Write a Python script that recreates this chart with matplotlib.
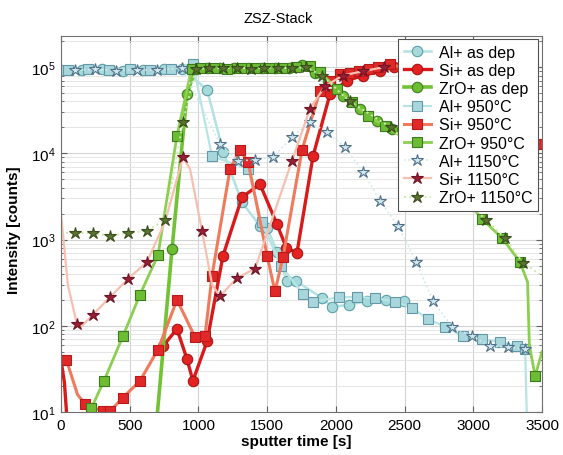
import numpy as np
import matplotlib
matplotlib.use('Agg')
import matplotlib.pyplot as plt
from matplotlib.ticker import LogLocator, FixedLocator, NullFormatter

plt.rcParams['font.family'] = ['Liberation Sans', 'DejaVu Sans']
plt.rcParams['mathtext.fontset'] = 'custom'
plt.rcParams['mathtext.rm'] = 'Liberation Sans'
plt.rcParams['mathtext.it'] = 'Liberation Sans:italic'
plt.rcParams['mathtext.bf'] = 'Liberation Sans:bold'

title = 'ZSZ-Stack'
xlabel = 'sputter time [s]'
ylabel = 'Intensity [counts]'
xticks = [0, 500, 1000, 1500, 2000, 2500, 3000, 3500]
yticks = [1e1, 1e2, 1e3, 1e4, 1e5]

# ---- Al+ as dep (circles)
al_dep_x = [0, 150, 300, 450, 600, 750, 880, 1063, 1180, 1317, 1448, 1500, 1572, 1645, 1710,
            1900, 1972, 2096, 2227, 2365, 2496]
al_dep_y = [9.3e4, 9.2e4, 9.4e4, 9.1e4, 9.3e4, 9.4e4, 9.6e4, 5.5e4, 1.05e4, 2.7e3, 1.44e3, 1.37e3,
            720, 330, 330, 210, 166, 175, 195, 200, 194]
# ---- Si+ as dep (circles)
si_dep_x = [0, 25, 50, np.nan, 690, 742, 844, 917, 960, 1063, 1179, 1317, 1448, 1572, 1640, 1717,
            1834, 1958, 2080, 2200, 2320, 2420, 2700]
si_dep_y = [40, 22, 6, np.nan, 50, 58, 92, 41, 23, 66, 650, 3.1e3, 4.4e3, 1.5e3, 800, 700,
            9.3e3, 4.9e4, 7e4, 8e4, 9e4, 1.0e5, 8e4]
# ---- ZrO+ as dep (circles)
zr_dep_x = [690, 808, 917, 980, 1060, 1160, 1260, 1360, 1460, 1560, 1660, 1754, 1850, 1943,
            2052, 2176, 2300, 2409, 2600, 2850]
zr_dep_y = [6, 780, 4.9e4, 9.6e4, 9.8e4, 9.7e4, 9.9e4, 9.7e4, 9.8e4, 9.9e4, 9.7e4, 1.05e5,
            8.5e4, 6.9e4, 4.6e4, 3.3e4, 2.37e4, 1.9e4, 1.2e4, 5e3]
# ---- Al+ 950 C (squares)
al_950_x = [50, 200, 350, 500, 650, 800, 960, 1099, 1361, 1460, 1600, 1761, 1834, 2023, 2154,
            2285, 2431, 2555, 2671, 2795, 2926, 3064, 3195, 3319, 3377, 3405]
al_950_y = [9.2e4, 9.4e4, 9.3e4, 9.5e4, 9.2e4, 9.6e4, 1.1e5, 9.3e3, 6.6e3, 1.6e3, 500, 233, 190,
            215, 215, 210, 190, 161, 120, 97, 76, 70, 65, 58, 54, 1]
# ---- Si+ 950 C (squares)
si_950_x = [0, 40, 120, 175, 306, 357, 451, 575, 706, 844, 975, 1048, 1099, 1230, 1303, 1361,
            1500, 1557, 1616, 1754, 1885, 1960, 2030, 2100, 2170, 2240, 2310, 2394, 2700, 3000,
            3300, 3480]
si_950_y = [40, 40, 16, 12.3, 10.2, 10.2, 14.7, 23, 53, 200, 74, 76, 380, 6.6e3, 1.1e4, 8e3,
            650, 250, 630, 1.1e4, 5.3e4, 7e4, 8.3e4, 8.5e4, 9e4, 9.5e4, 1.0e5, 1.08e5, 8e4, 5e4,
            2.5e4, 1.3e4]
# ---- ZrO+ 950 C (squares)
zr_950_x = [220, 313, 451, 575, 706, 844, 950, 1010, 1110, 1210, 1310, 1410, 1510, 1610, 1710,
            1812, 1885, 2009, 2118, 2234, 2358, 2600, 2850, 3064, 3210, 3340, 3395, 3408, 3450,
            3500]
zr_950_y = [11, 23, 76, 230, 660, 1.6e4, 9.5e4, 9.7e4, 9.9e4, 9.6e4, 9.8e4, 9.9e4, 9.7e4,
            9.8e4, 1.0e5, 1.03e5, 8.75e4, 5.6e4, 3.9e4, 2.7e4, 2.07e4, 1.2e4, 4.5e3, 1.73e3,
            1.04e3, 550, 320, 60, 26, 50]
# ---- Al+ 1150 C (stars)
al_1150_x = [100, 250, 400, 550, 700, 880, 1157, 1288, 1412, 1543, 1681, 1812, 1936, 2067,
             2198, 2322, 2453, 2584, 2707, 2846, 2991, 3122, 3253, 3377]
al_1150_y = [9.2e4, 9.4e4, 9.1e4, 9.3e4, 9.2e4, 9.8e4, 1.28e4, 8.2e3, 8.4e3, 9.0e3, 1.55e4,
             2.3e4, 1.76e4, 1.18e4, 6.1e3, 2.8e3, 1.44e3, 550, 194, 97, 76, 58, 57, 54]
# ---- Si+ 1150 C (stars)
si_1150_x = [0, 50, 116, 140, 233, 357, 488, 626, 757, 888, 939, 1026, 1100, 1157, 1281, 1412,
             1540, 1681, 1812, 1920, 2050, 2200, 2350]
si_1150_y = [2e3, 300, 105, 95, 135, 215, 350, 550, 1.6e3, 9e3, 6.6e3, 1.27e3, 300, 220, 360,
             460, 1.8e3, 8.2e3, 3.3e4, 6e4, 8e4, 9e4, 1e5]
# ---- ZrO+ 1150 C (stars)
zr_1150_x = [0, 102, 233, 357, 488, 626, 757, 888, 980, 1080, 1180, 1280, 1380, 1480, 1580,
             1680, 1780, 1900, 2100, 2400, 2800, 3090, 3230, 3360, 3500]
zr_1150_y = [1.2e3, 1.19e3, 1.19e3, 1.1e3, 1.2e3, 1.26e3, 1.7e3, 2.3e4, 9.5e4, 9.8e4, 9.7e4,
             9.9e4, 9.6e4, 9.8e4, 9.9e4, 9.7e4, 1.0e5, 8e4, 4e4, 2e4, 5e3, 1.7e3, 1.05e3, 540,
             380]

series = [
    ('Al+ as dep', al_dep_x, al_dep_y,
     dict(color='#b3e2e2', lw=1.8, ls='-', marker='o', ms=7.5, mfc='#a6d9da', mec='#5c9fa8'), []),
    ('Si+ as dep', si_dep_x, si_dep_y,
     dict(color='#d81a1a', lw=2.4, ls='-', marker='o', ms=7.5, mfc='#e32222', mec='#a81414'), [0, 1, 2, 4]),
    ('ZrO+ as dep', zr_dep_x, zr_dep_y,
     dict(color='#72c236', lw=2.6, ls='-', marker='o', ms=7.5, mfc='#6cbd30', mec='#3f7f1f'), [0]),
    ('Al+ 950°C', al_950_x, al_950_y,
     dict(color='#b8e4e4', lw=1.6, ls='-', marker='s', ms=6.5, mfc='#a8d6dc', mec='#6298a8'), [25]),
    ('Si+ 950°C', si_950_x, si_950_y,
     dict(color='#f07a5c', lw=2.2, ls='-', marker='s', ms=6.5, mfc='#e02828', mec='#b81a1a'), [2]),
    ('ZrO+ 950°C', zr_950_x, zr_950_y,
     dict(color='#8ccf50', lw=2.0, ls='-', marker='s', ms=6.5, mfc='#6cbd34', mec='#3a7a1c'), [26, 27, 29]),
    ('Al+ 1150°C', al_1150_x, al_1150_y,
     dict(color='#cfeaea', lw=1.2, ls=':', marker='*', ms=9, mfc='#cfe8ee', mec='#50708a'), []),
    ('Si+ 1150°C', si_1150_x, si_1150_y,
     dict(color='#f7bfb0', lw=1.6, ls='-', marker='*', ms=9, mfc='#9c1e36', mec='#6e1424'), [0, 1, 3, 8, 10, 12, 16]),
    ('ZrO+ 1150°C', zr_1150_x, zr_1150_y,
     dict(color='#cfe8b0', lw=1.4, ls=':', marker='*', ms=9, mfc='#5a7330', mec='#3a4d1c'), [0, 24]),
]

fig = plt.figure(figsize=(5.63, 4.56), dpi=100)
ax = fig.add_axes([0.1083, 0.0943, 0.8544, 0.8246])
ax.set_yscale('log')

for label, xs, ys, st, skip in series:
    n = len(xs)
    mk = [i for i in range(n) if i not in skip]
    ax.plot(xs, ys, label=label, markevery=mk, mew=0.8, **st)

ax.set_xlim(0, 3500)
ax.set_ylim(10, 2.3e5)
ax.xaxis.set_major_locator(FixedLocator(xticks))
ax.yaxis.set_major_locator(FixedLocator(yticks))
ax.yaxis.set_minor_locator(LogLocator(base=10, subs=np.arange(2, 10), numticks=20))
ax.yaxis.set_minor_formatter(NullFormatter())
ax.set_yticklabels([r'$10^{%d}$' % int(np.log10(v)) for v in yticks])
ax.set_xticklabels([str(v) for v in xticks])

ax.grid(True, which='major', axis='both', color='#d4d4d4', lw=0.8)
ax.grid(True, which='minor', axis='y', color='#e2e2e2', lw=0.6)
ax.set_axisbelow(True)
ax.tick_params(which='both', direction='in', top=True, right=True, labelsize=11,
               color='#606060', pad=4)
ax.tick_params(which='major', length=4)
ax.tick_params(which='minor', length=2)
for s in ax.spines.values():
    s.set_color('#707070')
    s.set_linewidth(0.8)

leg = ax.legend(loc='upper right', bbox_to_anchor=(0.992, 0.992), borderaxespad=0,
                fontsize=11.5, labelspacing=0.2, handlelength=1.7, handletextpad=0.5,
                borderpad=0.35, fancybox=False, framealpha=1, edgecolor='#505050')
leg.get_frame().set_linewidth(0.8)

fig.text(0.494, 0.958, title, ha='center', va='center', fontsize=10.5)
fig.text(0.526, 0.031, xlabel, ha='center', va='center', fontsize=11, fontweight='bold')
fig.text(0.025, 0.496, ylabel, ha='center', va='center', fontsize=11, fontweight='bold',
         rotation=90)

fig.savefig('out.png', dpi=100)
